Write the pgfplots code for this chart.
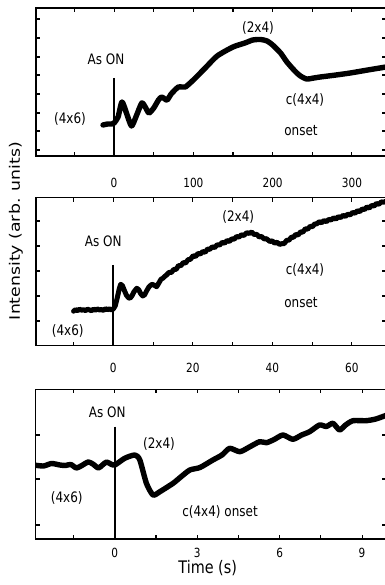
\documentclass[border=0pt]{standalone}
\usepackage{fontspec}
\setmainfont{DejaVu Sans}
\usepackage{pgfplots}
\pgfplotsset{compat=1.18}

\pgfplotsset{
  rheed/.style={
    anchor=south west,
    scale only axis,
    width=350pt,
    ymin=0,
    yticklabels={},
    tick align=inside,
    xtick pos=both, ytick pos=both,
    major tick length=4pt,
    minor tick length=4pt,
    axis line style={line width=1.2pt},
    every tick/.append style={black, line width=1.1pt},
    every minor tick/.append style={black, line width=1.1pt},
    /pgf/number format/assume math mode=true,
    tick label style={font=\fontsize{10.5}{12}\selectfont, yscale=1.2},
    clip=true,
  },
  trace/.style={black, line width=5.4pt, line join=round, line cap=round},
  shutter/.style={black, line width=1.9pt},
}
\newcommand{\lbl}{\fontsize{12}{14}\selectfont}

\begin{document}
\begin{tikzpicture}

% ---- long run: 0-340 s ----
\begin{axis}[rheed, at={(36pt,429pt)}, height=148pt,
  xmin=-98.5, xmax=343, ymax=148,
  xtick={0,100,200,300}, minor xtick={-50,50,150,250},
  ytick={6,25,43,62,81,99,118,137},
  xticklabel style={yshift=-15pt}]
\addplot[shutter] coordinates {(0,78) (0,0)};
\addplot[trace, smooth, tension=0.4] coordinates {
 (-14,31) (-8,32) (-3,32) (0,33) (5,39) (10,54) (16,42) (22,30) (28,40)
 (35,53) (40,48) (44,43) (50,48) (56,56) (60,59) (64,57) (67,56) (72,62)
 (78,67) (81,69) (86,69) (90,69) (100,76) (115,88) (130,100) (150,109)
 (165,113) (175,116) (185,116.5) (193,115) (200,111) (210,103) (218,94)
 (228,85) (235,80) (243,77) (252,78) (260,79) (280,81) (298,83) (320,86)
 (343,89)};
\end{axis}

% ---- 0-68 s ----
\begin{axis}[rheed, at={(36pt,239.3pt)}, height=148pt,
  xmin=-19.45, xmax=68.6, ymax=148,
  xtick={0,20,40,60}, minor xtick={-10,10,30,50},
  ytick={24.7,49.7,74.7,99.7,124.7},
  xticklabel style={yshift=-11pt}]
\addplot[shutter] coordinates {(0,80.7) (0,0)};
\addplot[trace, line width=5pt] coordinates {
 (-10,34.5) (-9.5,36) (-9,35) (-8.5,36.5) (-8,35.5) (-7.5,36) (-7,35)
 (-6.5,36.5) (-6,35.8) (-5.5,35) (-5,36.5) (-4.5,35.5) (-4,36.8) (-3.5,35.7)
 (-3,36.2) (-2.5,35.2) (-2,37) (-1.5,36) (-1,36.8) (-0.5,35.8) (0,36.7)
 (0.5,40) (1,48) (1.5,57) (1.85,61.4) (2.3,60) (2.8,55) (3.3,50.5) (3.8,48)
 (4.2,47.4) (4.7,50) (5.2,54) (5.9,57.4) (6.4,56) (6.9,52) (7.4,49.7)
 (7.9,51) (8.4,55) (9,59) (9.7,61.4) (10.3,60.5) (10.9,59) (11.5,63)
 (12,66.5) (12.5,67.5) (13,69.5) (13.4,70.7)
 (14,73.3) (14.6,73.2) (15.2,76.3) (15.8,76.3) (16.4,80.1) (17,80)
 (17.6,83.1) (18.2,82.7) (18.8,86) (19.4,86.4) (20.1,90) (20.7,89.2)
 (21.3,92.3) (21.9,91.7) (22.5,94.2) (23.1,93.4) (23.7,96.6) (24.3,96.4)
 (24.9,98.9) (25.5,98.1) (26.1,100.8) (26.8,100.8) (27.4,103.4) (28,102.5)
 (28.6,105.2) (29.2,104.2) (29.8,106.8) (30.4,106.5) (31,109.2) (31.6,108.6)
 (32.2,110.9) (32.8,110.2) (33.6,113) (34.2,112.3) (34.8,113.7) (35.4,111.2)
 (36.1,111.3) (36.7,108.7) (37.3,109.3) (37.9,106.8) (38.5,107) (39.4,104.2)
 (40,104.8) (40.6,102.5) (41.2,103.5) (41.8,101.3) (42.4,102) (43,102.1)
 (43.6,105.4) (44.2,105.5) (44.8,108.6) (45.3,108.3) (45.9,111.3) (46.5,110.7)
 (47.1,113.8) (47.7,113.6) (48.3,116.9) (48.9,116.6) (49.5,119.3) (50.1,119)
 (50.6,121.6) (51.2,121.9) (51.8,124) (52.4,122.9) (53,125.2) (53.6,124)
 (54.2,126.3) (54.8,125.7) (55.4,127.9) (56,126.6) (56.6,129) (57.2,128.1)
 (57.8,130.4) (58.4,129.3) (59,131.5) (59.6,130.8) (60.2,133.3) (60.8,132.4)
 (61.4,135) (62,134) (62.6,136.7) (63.2,136.2) (63.8,138.7) (64.4,137.7)
 (65,140.3) (65.6,139.7) (66.2,142.2) (66.8,141.4) (67.4,143.8) (68,143.5)
 (68.6,144.5)};
\end{axis}

% ---- 0-10 s ----
\begin{axis}[rheed, at={(35.7pt,46pt)}, height=149.7pt,
  xmin=-2.88, xmax=9.86, ymax=149.7,
  xtick={0,3,6,9}, minor xtick={-1.5,1.5,4.5,7.5},
  ytick={14,60,104},
  xticklabel style={yshift=-4pt}]
\addplot[shutter] coordinates {(0,112.3) (0,0)};
\addplot[trace, smooth, tension=0.4] coordinates {
 (-2.95,74) (-2.6,73) (-2.3,75.5) (-2.0,74) (-1.8,73.5) (-1.6,74.5)
 (-1.4,71) (-1.2,73.5) (-0.97,77) (-0.8,75) (-0.6,71) (-0.45,74)
 (-0.3,77) (-0.15,75) (0,74) (0.36,80.7) (0.73,84) (0.91,79) (1.15,55.7)
 (1.39,44) (1.64,47.3) (2.12,55.7) (2.4,62) (2.73,69) (3.1,71.5) (3.57,79)
 (3.9,84) (4.18,90.7) (4.55,87.3) (4.9,92) (5.27,97.3) (5.52,96.3)
 (5.8,99.5) (6.12,104) (6.48,99.7) (6.8,104) (7.09,107.3) (7.45,114)
 (7.7,112.5) (7.94,115.7) (8.18,109) (8.4,114) (8.67,118.3) (9.15,118.3)
 (9.5,120) (9.86,123.5)};
\end{axis}

% annotations
\begin{scope}[every node/.style={font=\lbl, inner sep=0pt, yscale=1.2}]
\node at (258pt,557pt) {(2x4)};
\node at (106pt,526pt) {As ON};
\node at (70pt,466pt) {(4x6)};
\node at (305pt,485pt) {c(4x4)};
\node at (301pt,454pt) {onset};

\node at (238.3pt,368.3pt) {(2x4)};
\node at (103.3pt,343.3pt) {As ON};
\node at (67.7pt,254.3pt) {(4x6)};
\node at (305pt,315pt) {c(4x4)};
\node at (301pt,282.3pt) {onset};

\node at (107.3pt,172.3pt) {As ON};
\node at (159pt,141pt) {(2x4)};
\node at (66.7pt,86.7pt) {(4x6)};
\node at (220pt,73.3pt) {c(4x4) onset};
\end{scope}

\node[font=\fontsize{14.4}{17}\selectfont, inner sep=0pt, yscale=1.2] at (207.7pt,17pt) {Time (s)};
\node[font=\fontsize{14.4}{17}\selectfont, inner sep=0pt, rotate=90, xscale=1.2] at (16pt,354pt) {Intensity (arb. units)};

\pgfresetboundingbox
\path[use as bounding box] (0pt,0pt) rectangle (384pt,585pt);
\end{tikzpicture}
\end{document}
